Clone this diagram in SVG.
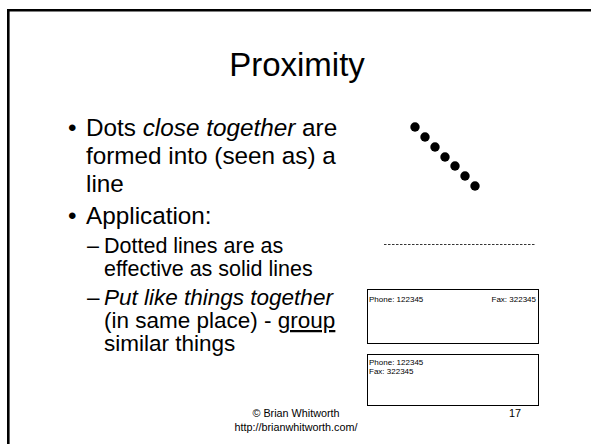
<svg xmlns="http://www.w3.org/2000/svg" width="591" height="444" viewBox="0 0 591 444">
  <style>
    text { font-family: "Liberation Sans", Arial, sans-serif; fill: #000; }
    .title { font-size: 33px; text-anchor: middle; }
    .l1 { font-size: 24.3px; }
    .l2 { font-size: 21.5px; }
    .l2b { font-size: 22.5px; }
    .small { font-size: 8px; }
    .foot { font-size: 10.8px; }
    .box { fill: #fff; stroke: #000; stroke-width: 1; }
    .dot { fill: #000; }
  </style>

  <rect width="591" height="444" fill="#fff"/>

  <!-- slide frame: top and left rules -->
  <g id="frame" stroke="#000" stroke-width="2.6" fill="none">
    <path d="M8.3 444 V10.3 H591"/>
  </g>

  <g id="title">
    <text class="title" x="297" y="76">Proximity</text>
  </g>

  <!-- bullet text -->
  <g id="body">
    <text class="l1" x="68" y="136">•</text>
    <text class="l1" x="86" y="136">Dots <tspan font-style="italic">close together</tspan> are</text>
    <text class="l1" x="86" y="164">formed into (seen as) a</text>
    <text class="l1" x="86" y="192">line</text>

    <text class="l1" x="68" y="224">•</text>
    <text class="l1" x="86" y="224">Application:</text>

    <text class="l2" x="87" y="253">–</text>
    <text class="l2" x="104" y="253">Dotted lines are as</text>
    <text class="l2" x="104" y="276">effective as solid lines</text>

    <text class="l2b" x="87" y="305">–</text>
    <text class="l2b" x="104" y="305" font-style="italic">Put like things together</text>
    <text class="l2b" x="104" y="328">(in same place) - <tspan text-decoration="underline">group</tspan></text>
    <text class="l2b" x="104" y="351">similar things</text>
  </g>

  <!-- diagonal row of dots -->
  <g id="dots">
    <circle class="dot" cx="415" cy="127" r="4.7"/>
    <circle class="dot" cx="425" cy="137" r="4.7"/>
    <circle class="dot" cx="435" cy="147" r="4.7"/>
    <circle class="dot" cx="445" cy="157" r="4.7"/>
    <circle class="dot" cx="455" cy="166" r="4.7"/>
    <circle class="dot" cx="465" cy="176" r="4.7"/>
    <circle class="dot" cx="475" cy="186" r="4.7"/>
  </g>

  <!-- dotted rule -->
  <g id="dotted-line">
    <line x1="384" y1="244.5" x2="535" y2="244.5" stroke="#000" stroke-width="0.8" stroke-dasharray="2.5 1.5"/>
  </g>

  <!-- address card: fields spread apart -->
  <g id="card-spread">
    <rect class="box" x="367.5" y="289.5" width="171" height="54"/>
    <text class="small" x="369" y="302">Phone: 122345</text>
    <text class="small" x="536" y="302" text-anchor="end">Fax: 322345</text>
  </g>

  <!-- address card: fields grouped -->
  <g id="card-grouped">
    <rect class="box" x="367.5" y="354.5" width="171" height="51"/>
    <text class="small" x="369" y="365">Phone: 122345</text>
    <text class="small" x="369" y="374">Fax: 322345</text>
  </g>

  <g id="footer">
    <text class="foot" x="296" y="417" text-anchor="middle">© Brian Whitworth</text>
    <text class="foot" x="296" y="431" text-anchor="middle">http://brianwhitworth.com/</text>
    <text class="foot" x="509" y="417">17</text>
  </g>
</svg>
